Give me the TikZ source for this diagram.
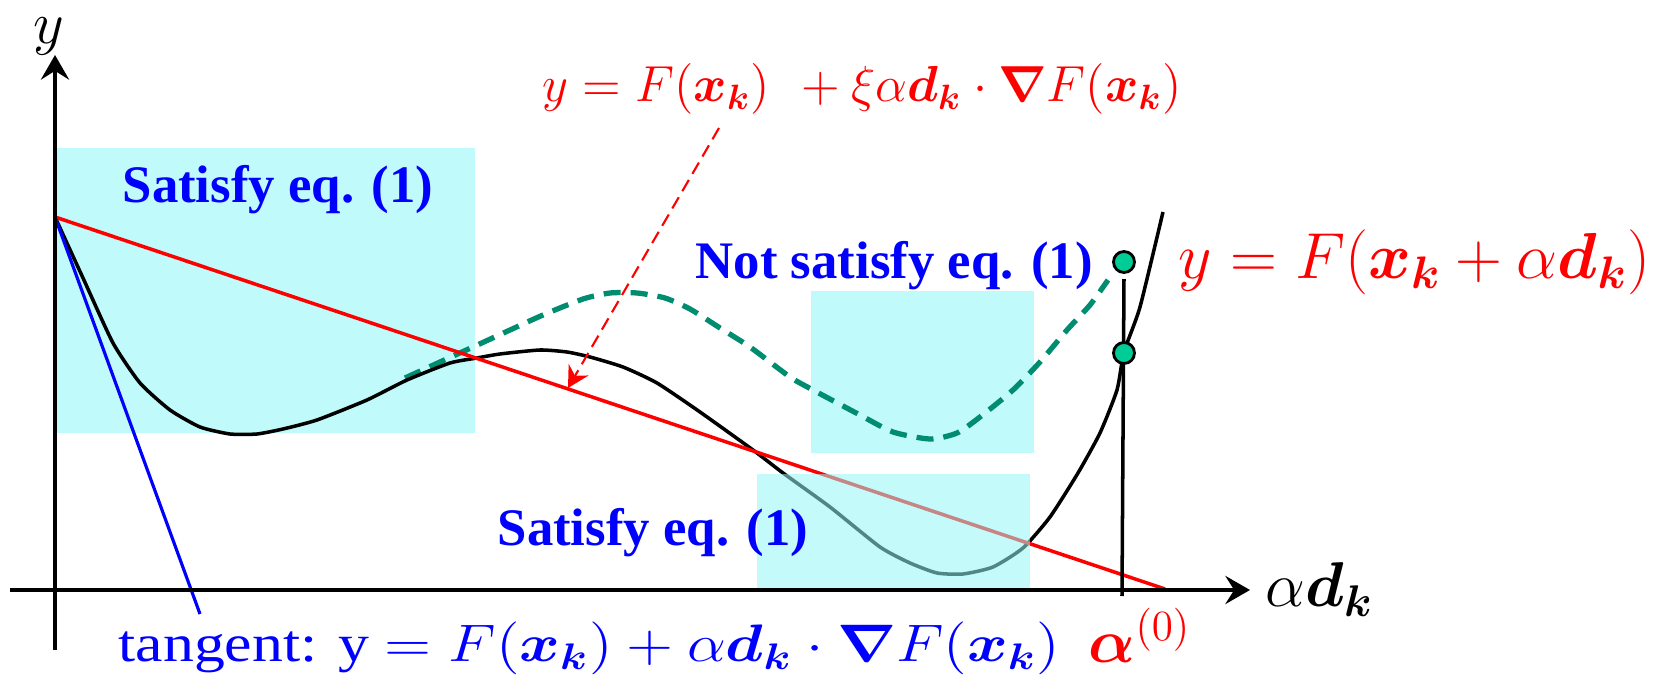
\RequirePackage{fix-cm}
\documentclass[tikz,border=0pt]{standalone}
\usepackage{amsmath}
\usepackage{graphicx}
\usepackage{fontspec}
\setmainfont{Liberation Serif}
\usetikzlibrary{arrows.meta}
\definecolor{boxcyan}{RGB}{192,250,250}
\definecolor{boxcyanb}{RGB}{150,245,245}
\definecolor{dgreen}{RGB}{0,140,110}
\definecolor{mint}{RGB}{0,204,150}
\newcommand{\bvx}{\boldsymbol{x}}
\newcommand{\bvd}{\boldsymbol{d}}
\newcommand{\bvk}{\boldsymbol{k}}
\newcommand{\bnab}{\boldsymbol{\nabla}}
\begin{document}
\begin{tikzpicture}[x=0.01cm,y=-0.01cm,
  axisline/.style={line width=1.15pt,-{Stealth[length=7pt,width=8pt,inset=2.5pt]}},
  fcurve/.style={line width=1pt,black,line join=round},
  chord/.style={line width=1pt,red},
  tanline/.style={line width=0.9pt,blue},
  gdash/.style={line width=1.5pt,dgreen,dash pattern=on 0.17cm off 0.10cm},
  callout/.style={line width=0.6pt,red,dash pattern=on 0.13cm off 0.07cm,-{Stealth[length=6pt,width=6.5pt,inset=2pt]}},
  dot/.style={circle,draw=black,line width=0.8pt,fill=mint,minimum size=0.21cm,inner sep=0pt},
  vline/.style={line width=1pt,black},
  satlbl/.style={anchor=base west,inner sep=0pt,text=blue,font=\fontsize{15}{18}\selectfont\bfseries},
  txt/.style={anchor=base west,inner sep=0pt}
]
\useasboundingbox (0,0) rectangle (1659,676);

% coordinates
\coordinate (O) at (55,590);
\coordinate (xa0) at (10,590);
\coordinate (xa1) at (1250,590);
\coordinate (ya0) at (55,650);
\coordinate (ya1) at (55,55);
\coordinate (F0) at (55,217);
\coordinate (chordEnd) at (1165,589);
\coordinate (tanEnd) at (200,614);
\coordinate (vEnd) at (1122,596);
\coordinate (ra1) at (719,128);
\coordinate (ra2) at (568,388);

% background boxes
\fill[boxcyan] (57,148) rectangle (475,433);
\fill[boxcyan] (811,291) rectangle (1034,453);

% dashed green curve
\draw[gdash] plot[smooth,tension=0.4] coordinates {(405,378) (440,362) (473,347) (510,330) (543,315) (583,299) (610,293) (637,293) (665,298) (690,309) (720,328) (750,347) (790,377) (813,390) (860,415) (893,432) (930,439) (957,433) (980,417) (1013,390) (1040,362) (1067,330) (1090,305) (1108,280)};

% black function curve
\draw[fcurve] plot[smooth,tension=0.35] coordinates {(55,217) (83,278) (113,343) (140,383) (170,410) (200,427) (230,434) (257,434) (283,429) (317,420) (367,400) (407,380) (450,363) (477,358) (500,354) (540,350) (567,352) (590,357) (623,367) (657,383) (700,412) (753,450) (783,473) (830,507) (880,547) (910,563) (937,573) (963,574) (993,567) (1023,548) (1050,517) (1078,473) (1100,433) (1117,390) (1124,352) (1140,307) (1163,212)};

% chord and tangent
\draw[chord] (F0) -- (chordEnd);
\draw[tanline] (F0) -- (tanEnd);

% semi-transparent box over curve
\fill[boxcyanb,fill opacity=0.55] (757,474) rectangle (1030,588);

% axes
\draw[axisline] (xa0) -- (xa1);
\draw[axisline] (ya0) -- (ya1);

% vertical line and dots
\node[dot] (c1) at (1124,262) {};
\draw[vline] ([yshift=-0.17cm]c1.center) -- (vEnd);
\node[dot] (c2) at (1124,353) {};

% callout arrow
\draw[callout] (ra1) -- (ra2);

% labels
\node[anchor=base,inner sep=0pt,font=\fontsize{17}{20}\selectfont] (ylab) at (49,44) {$y$};
\node[txt,font=\fontsize{18}{22}\selectfont] (xlab) at (1265,607) {$\alpha\bvd_{\bvk}$};
\node[satlbl] (s1) at (122,203) {Satisfy eq. (1)};
\node[satlbl] (s2) at (695,279) {Not satisfy eq. (1)};
\node[satlbl] (s3) at (497,546) {Satisfy eq. (1)};
\node[txt,text=red,font=\fontsize{14.4}{17}\selectfont] (topf) at (542,102) {$y = F(\bvx_{\bvk})\hspace{0.4em} + \xi\alpha\bvd_{\bvk}\cdot\bnab F(\bvx_{\bvk})$};
\node[txt,text=red,font=\fontsize{18.5}{22}\selectfont] (bigf) at (1178,279) {$y = F(\bvx_{\bvk} + \alpha\bvd_{\bvk})$};
\node[txt,text=red,font=\fontsize{17.5}{21}\selectfont] (a0) at (1088,663) {$\boldsymbol{\alpha}^{(0)}$};
\node[txt,text=blue,font=\fontsize{15}{18}\selectfont] (tanlab) at (118,662) {\scalebox{1.17}[1]{tangent: y $= F(\bvx_{\bvk}) + \alpha\bvd_{\bvk}\cdot\bnab F(\bvx_{\bvk})$}};
\end{tikzpicture}
\end{document}
